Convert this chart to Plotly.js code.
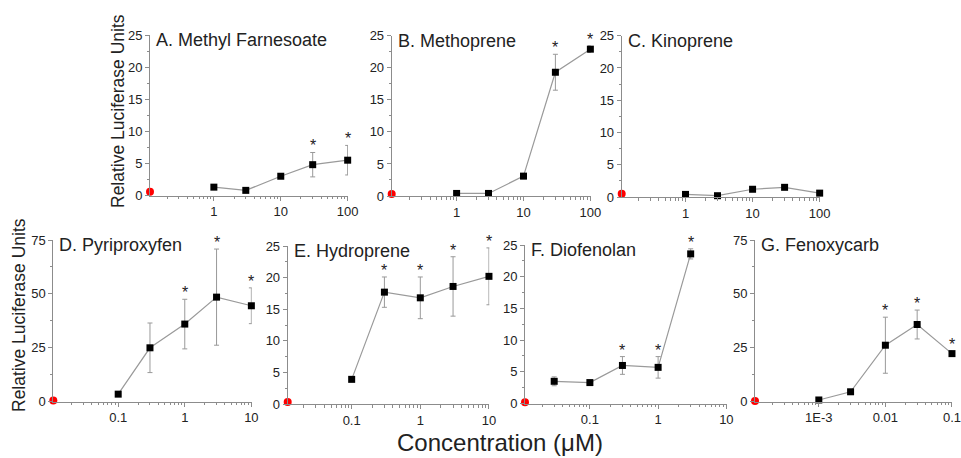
<!DOCTYPE html>
<html><head><meta charset="utf-8">
<script src="https://cdn.plot.ly/plotly-3.0.1.min.js"></script>
<style>body{margin:0;background:#fff}#c{width:961px;height:458px}</style></head>
<body><div id="c"></div><script>
// ---- data ----
const panelTitles = ['A. Methyl Farnesoate','B. Methoprene','C. Kinoprene','D. Pyriproxyfen','E. Hydroprene','F. Diofenolan','G. Fenoxycarb'];

const concA = [1,3,10,30,100];
const meanA = [1.3,0.8,3.0,4.8,5.5];
const errA  = [0.2,0.2,0.3,1.9,2.3];
const sigA  = [0,0,0,1,1];

const concB = [1,3,10,30,100];
const meanB = [0.4,0.4,3.1,19.3,22.9];
const errB  = [0.2,0.2,0.4,2.8,0.5];
const sigB  = [0,0,0,1,1];

const concC = [1,3,10,30,100];
const meanC = [0.4,0.2,1.2,1.5,0.6];
const errC  = [0.2,0.1,0.2,0.3,0.2];
const sigC  = [0,0,0,0,0];

const concD = [0.1,0.3,1,3,10];
const meanD = [3.5,25,36,48.5,44.5];
const errD  = [1,11.5,11.5,22.3,8.3];
const sigD  = [0,0,1,1,1];

const concE = [0.1,0.3,1,3,10];
const meanE = [3.9,17.7,16.8,18.6,20.2];
const errE  = [0.3,2.4,3.3,4.7,4.5];
const sigE  = [0,1,1,1,1];

const concF = [0.03,0.1,0.3,1,3];
const meanF = [3.5,3.3,6.0,5.7,23.6];
const errF  = [0.7,0.3,1.4,1.7,0.8];
const sigF  = [0,0,1,1,1];

const concG = [0.001,0.003,0.01,0.03,0.1];
const meanG = [0.8,4.6,26.2,35.8,22.3];
const errG  = [0.5,0.8,13,6.7,1.2];
const sigG  = [0,0,1,1,1];

// vehicle control (plotted at the axis origin)
const ctrlConc  = [0.111,0.107,0.112,0.0106,0.0117,0.0112,0.00011];
const ctrlValue = [0.6,0.3,0.5,0.5,0.3,0.2,0.3];

const xTickVals = [[1,10,100],[1,10,100],[1,10,100],[0.1,1,10],[0.1,1,10],[0.1,1,10],[0.001,0.01,0.1]];
const xTickText = [['1','10','100'],['1','10','100'],['1','10','100'],['0.1','1','10'],['0.1','1','10'],['0.1','1','10'],['1E-3','0.01','0.1']];
const yMax = [25,25,25,75,25,25,75];
const yTitle = 'Relative Luciferase Units';
const xTitle = 'Concentration (μM)';

// ---- layout boxes in pixels: [left, right, top, bottom] ----
const W = 961, H = 458;
const boxes = [
  [150,348,35,195.5],
  [391.7,590.7,35.7,196],
  [621.7,820,35.7,197],
  [53.3,251.7,240,401.7],
  [287.7,489.3,246,404],
  [525,726.7,245,403.5],
  [755,952.3,240,401.7]
];

const concs = [concA,concB,concC,concD,concE,concF,concG];
const means = [meanA,meanB,meanC,meanD,meanE,meanF,meanG];
const errs  = [errA,errB,errC,errD,errE,errF,errG];
const sigs  = [sigA,sigB,sigC,sigD,sigE,sigF,sigG];

const FONT = 'Arial, "Liberation Sans", sans-serif';
const TXT = '#222';
const AX = '#8c8c8c';

// minor log tick positions (2..9 per decade) for an axis range
function minorLogTicks(lo, hi) {
  const out = [];
  for (let d = Math.floor(lo); d <= Math.ceil(hi); d++)
    for (let m = 2; m <= 9; m++) {
      const v = m * Math.pow(10, d), lv = Math.log10(v);
      if (lv >= lo && lv <= hi) out.push(v);
    }
  return out;
}

const data = [];
const layout = {
  width: W, height: H, margin: {l:0,r:0,t:0,b:0},
  paper_bgcolor:'#fff', plot_bgcolor:'#fff', showlegend:false,
  font:{family:FONT, color:TXT, size:13},
  annotations: []
};

for (let i = 0; i < 7; i++) {
  const n = i === 0 ? '' : String(i+1);
  const xa = 'x'+n, ya = 'y'+n;
  const [l,r,t,b] = boxes[i];
  const loX = Math.log10(ctrlConc[i]);
  const hiX = Math.log10(xTickVals[i][xTickVals[i].length-1]) + 0.005;
  layout['xaxis'+n] = {
    type:'log', domain:[l/W, r/W], range:[loX, hiX], anchor:ya,
    tickmode:'array', tickvals:xTickVals[i], ticktext:xTickText[i],
    ticks:'outside', ticklen:4, tickcolor:AX, tickwidth:1, ticklabeloverflow:'allow',
    showline:true, linecolor:AX, linewidth:1, showgrid:false, zeroline:false,
    tickfont:{size:13, color:TXT, family:FONT},
    minor:{ticks:'outside', ticklen:2.5, tickcolor:AX, tickmode:'array',
           tickvals:minorLogTicks(loX, hiX), showgrid:false}
  };
  layout['yaxis'+n] = {
    domain:[1-b/H, 1-t/H], range:[0, yMax[i]], anchor:xa,
    tickmode:'linear', tick0:0, dtick: yMax[i] === 25 ? 5 : 25,
    ticks:'outside', ticklen:4, tickcolor:AX, tickwidth:1,
    showline:true, linecolor:AX, linewidth:1, showgrid:false, zeroline:false,
    tickfont:{size:13, color:TXT, family:FONT},
    minor:{ticks:'outside', ticklen:2, tickcolor:AX, dtick: yMax[i] === 25 ? 2.5 : 12.5, showgrid:false}
  };
  // series
  data.push({
    type:'scatter', mode:'lines+markers', xaxis:xa, yaxis:ya,
    x:concs[i], y:means[i],
    line:{color:'#9a9a9a', width:1.2},
    marker:{symbol:'square', size:7, color:'#000'},
    error_y:{type:'data', array:errs[i], visible:true, color:'#999', thickness:1, width:2.5},
    cliponaxis:false
  });
  // control
  data.push({
    type:'scatter', mode:'markers', xaxis:xa, yaxis:ya,
    x:[ctrlConc[i]], y:[ctrlValue[i]],
    marker:{symbol:'circle', size:8, color:'#ff0000'}, cliponaxis:false
  });
  // significance stars (annotations on a log axis take log10 x)
  sigs[i].forEach((s,k) => {
    if (!s) return;
    layout.annotations.push({
      xref:xa, yref:ya, x:Math.log10(concs[i][k]), y:means[i][k] + errs[i][k],
      xanchor:'center', yanchor:'bottom', yshift:-4, showarrow:false, text:'*',
      font:{size:16, color:TXT, family:FONT}
    });
  });
  // panel title
  layout.annotations.push({
    xref:xa+' domain', yref:ya+' domain', x:0, y:1, xanchor:'left', yanchor:'middle',
    xshift:4, yshift:-5, showarrow:false, text:panelTitles[i],
    font:{size:18, color:TXT, family:FONT}
  });
}

// shared axis titles
layout.annotations.push({xref:'paper', yref:'paper', x:118/W, y:1-111/H, textangle:-90,
  xanchor:'center', yanchor:'middle',
  showarrow:false, text:yTitle, font:{size:17.5, color:TXT, family:FONT}});
layout.annotations.push({xref:'paper', yref:'paper', x:19/W, y:1-315/H, textangle:-90,
  xanchor:'center', yanchor:'middle',
  showarrow:false, text:yTitle, font:{size:17.5, color:TXT, family:FONT}});
layout.annotations.push({xref:'paper', yref:'paper', x:500/W, y:1-442/H,
  xanchor:'center', yanchor:'middle',
  showarrow:false, text:xTitle, font:{size:24, color:TXT, family:FONT}});

Plotly.newPlot('c', data, layout, {staticPlot:true, displayModeBar:false});
</script></body></html>
